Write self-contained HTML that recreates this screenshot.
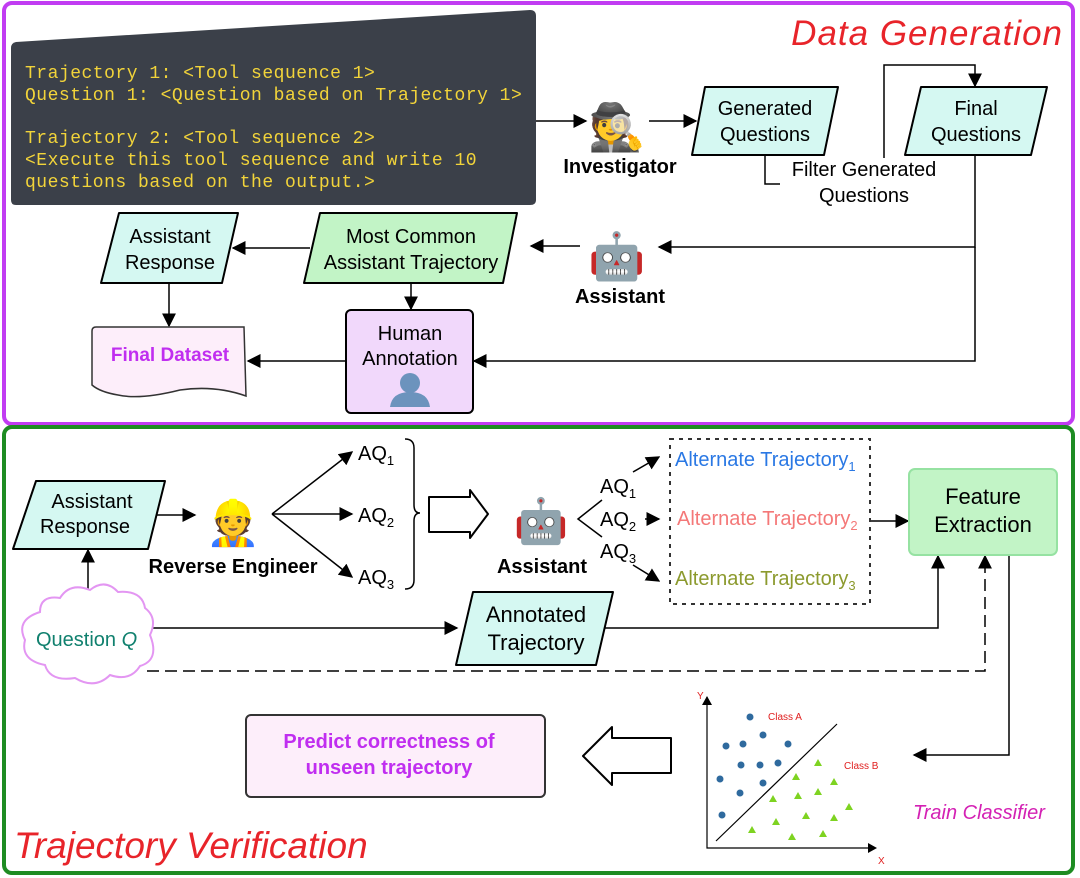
<!DOCTYPE html>
<html><head><meta charset="utf-8"><style>
html,body{margin:0;padding:0;background:#fff;width:1080px;height:878px;overflow:hidden}
svg{display:block;font-family:"Liberation Sans",sans-serif}
</style></head><body>
<svg width="1080" height="878" viewBox="0 0 1080 878" xmlns="http://www.w3.org/2000/svg">
<defs>
<marker id="ah" viewBox="0 0 10 10" refX="9" refY="5" markerWidth="14" markerHeight="14" markerUnits="userSpaceOnUse" orient="auto"><path d="M0,0 L10,5 L0,10 z" fill="#000"/></marker>
</defs>
<rect x="4" y="3" width="1069" height="421" rx="8" fill="none" stroke="#c13cf2" stroke-width="4"/>
<rect x="4" y="427" width="1069" height="446" rx="8" fill="none" stroke="#1e8c22" stroke-width="4"/>
<text x="1063" y="45" text-anchor="end" font-size="35" font-style="italic" fill="#e8242a" letter-spacing="1">Data Generation</text>
<text x="14" y="858" font-size="37" font-style="italic" fill="#e8242a">Trajectory Verification</text>

<path d="M16,42 L530,10 Q536,10 536,16 L536,200 Q536,205 530,205 L16,205 Q11,205 11,200 L11,48 Q11,43 16,42 z" fill="#3b4049"/>
<g font-family="'Liberation Mono',monospace" font-size="18" fill="#f2d43a" letter-spacing="0.5">
<text x="25" y="78">Trajectory 1: &lt;Tool sequence 1&gt;</text>
<text x="25" y="100">Question 1: &lt;Question based on Trajectory 1&gt;</text>
<text x="25" y="143">Trajectory 2: &lt;Tool sequence 2&gt;</text>
<text x="25" y="165">&lt;Execute this tool sequence and write 10</text>
<text x="25" y="187">questions based on the output.&gt;</text>
</g>

<g stroke="#000" stroke-width="1.5" fill="none">
<line x1="536" y1="121" x2="586" y2="121" marker-end="url(#ah)"/>
<line x1="649" y1="121" x2="696" y2="121" marker-end="url(#ah)"/>
<path d="M765,155 L765,184 L780,184"/>
<path d="M884,158 L884,65 L975,65 L975,86" marker-end="url(#ah)"/>
<path d="M975,155 L975,247 L659,247" marker-end="url(#ah)"/>
<path d="M975,247 L975,361 L474,361" marker-end="url(#ah)"/>
<line x1="580" y1="246" x2="531" y2="246" marker-end="url(#ah)"/>
<line x1="310" y1="248" x2="233" y2="248" marker-end="url(#ah)"/>
<line x1="169" y1="283" x2="169" y2="326" marker-end="url(#ah)"/>
<line x1="411" y1="283" x2="411" y2="309" marker-end="url(#ah)"/>
<line x1="346" y1="361" x2="248" y2="361" marker-end="url(#ah)"/>
</g>

<text x="617" y="143" text-anchor="middle" font-size="46">🕵️</text>
<text x="620" y="173" text-anchor="middle" font-size="20" font-weight="bold">Investigator</text>
<path d="M705,87 L838,87 L824,155 L692,155 z" fill="#d5f8f2" stroke="#000" stroke-width="2" stroke-linejoin="round"/>
<text x="765" y="115" text-anchor="middle" font-size="20">Generated</text>
<text x="765" y="141" text-anchor="middle" font-size="20">Questions</text>
<path d="M921,87 L1047,87 L1031,155 L905,155 z" fill="#d5f8f2" stroke="#000" stroke-width="2" stroke-linejoin="round"/>
<text x="976" y="115" text-anchor="middle" font-size="20">Final</text>
<text x="976" y="141" text-anchor="middle" font-size="20">Questions</text>
<rect x="782" y="158" width="160" height="48" fill="#fff"/>
<text x="864" y="176" text-anchor="middle" font-size="20">Filter Generated</text>
<text x="864" y="202" text-anchor="middle" font-size="20">Questions</text>

<text x="617" y="272" text-anchor="middle" font-size="46">🤖</text>
<text x="620" y="303" text-anchor="middle" font-size="20" font-weight="bold">Assistant</text>

<path d="M320,213 L517,213 L503,283 L304,283 z" fill="#c2f4c6" stroke="#000" stroke-width="2" stroke-linejoin="round"/>
<text x="411" y="243" text-anchor="middle" font-size="20">Most Common</text>
<text x="411" y="269" text-anchor="middle" font-size="20">Assistant Trajectory</text>
<path d="M119,213 L238,213 L222,283 L101,283 z" fill="#d5f8f2" stroke="#000" stroke-width="2" stroke-linejoin="round"/>
<text x="170" y="243" text-anchor="middle" font-size="20">Assistant</text>
<text x="170" y="269" text-anchor="middle" font-size="20">Response</text>

<path d="M96,327 L244,327 L246,396 Q215,385 180,390 Q140,400 118,395 Q100,392 92,385 L92,331 Q92,327 96,327 z" fill="#fdeefa" stroke="#333" stroke-width="1.5"/>
<text x="170" y="361" text-anchor="middle" font-size="19" font-weight="bold" fill="#c02ef0">Final Dataset</text>

<rect x="346" y="310" width="127" height="103" rx="5" fill="#f1d8fb" stroke="#000" stroke-width="2"/>
<text x="410" y="340" text-anchor="middle" font-size="20">Human</text>
<text x="410" y="365" text-anchor="middle" font-size="20">Annotation</text>
<circle cx="410" cy="383" r="10" fill="#6c93bd"/>
<path d="M390,407 Q392,392 410,392 Q428,392 430,407 z" fill="#6c93bd"/>

<path d="M36,481 L165,481 L148,549 L13,549 z" fill="#d5f8f2" stroke="#000" stroke-width="2" stroke-linejoin="round"/>
<text x="92" y="508" text-anchor="middle" font-size="20">Assistant</text>
<text x="85" y="533" text-anchor="middle" font-size="20">Response</text>
<g stroke="#000" stroke-width="1.5" fill="none">
<line x1="157" y1="515" x2="195" y2="515" marker-end="url(#ah)"/>
<line x1="272" y1="514" x2="352" y2="452" marker-end="url(#ah)"/>
<line x1="272" y1="514" x2="352" y2="514" marker-end="url(#ah)"/>
<line x1="272" y1="514" x2="352" y2="577" marker-end="url(#ah)"/>
<path d="M405,439 Q414,439 414,448 L414,505 Q414,513 420,513 Q414,513 414,521 L414,580 Q414,589 405,589"/>
<path d="M429,497 L470,497 L470,490 L488,514 L470,538 L470,532 L429,532 z" stroke-width="2" stroke-linejoin="round"/>
<path d="M602,500 L578,519 L602,537"/>
<line x1="633" y1="472" x2="659" y2="457" marker-end="url(#ah)"/>
<line x1="645" y1="519" x2="659" y2="519" marker-end="url(#ah)"/>
<line x1="633" y1="565" x2="659" y2="581" marker-end="url(#ah)"/>
<line x1="870" y1="521" x2="908" y2="521" marker-end="url(#ah)"/>
<line x1="88" y1="600" x2="88" y2="550" marker-end="url(#ah)"/>
<line x1="150" y1="628" x2="457" y2="628" marker-end="url(#ah)"/>
<path d="M605,628 L938,628 L938,556" marker-end="url(#ah)"/>
<path d="M147,671 L985,671 L985,556" stroke-dasharray="12,6" marker-end="url(#ah)"/>
<path d="M1009,555 L1009,755 L914,755" marker-end="url(#ah)"/>
<path d="M671,738 L612,738 L612,727 L583,756 L612,785 L612,773 L671,773 z" stroke-width="2" stroke-linejoin="round"/>
</g>
<text x="233" y="538" text-anchor="middle" font-size="44">👷</text>
<text x="233" y="573" text-anchor="middle" font-size="20" font-weight="bold">Reverse Engineer</text>
<g font-size="20">
<text x="358" y="460">AQ<tspan font-size="13" dy="5">1</tspan></text>
<text x="358" y="522">AQ<tspan font-size="13" dy="5">2</tspan></text>
<text x="358" y="584">AQ<tspan font-size="13" dy="5">3</tspan></text>
<text x="600" y="493">AQ<tspan font-size="13" dy="5">1</tspan></text>
<text x="600" y="526">AQ<tspan font-size="13" dy="5">2</tspan></text>
<text x="600" y="558">AQ<tspan font-size="13" dy="5">3</tspan></text>
</g>
<text x="541" y="536" text-anchor="middle" font-size="44">🤖</text>
<text x="542" y="573" text-anchor="middle" font-size="20" font-weight="bold">Assistant</text>

<rect x="670" y="439" width="200" height="165" fill="none" stroke="#333" stroke-width="2" stroke-dasharray="4,5"/>
<g font-size="20">
<text x="675" y="466" fill="#2a78e4">Alternate Trajectory<tspan font-size="13" dy="5">1</tspan></text>
<text x="677" y="525" fill="#f47878">Alternate Trajectory<tspan font-size="13" dy="5">2</tspan></text>
<text x="675" y="585" fill="#8c9a2e">Alternate Trajectory<tspan font-size="13" dy="5">3</tspan></text>
</g>
<rect x="909" y="469" width="148" height="86" rx="6" fill="#c2f4c6" stroke="#96e2a2" stroke-width="2"/>
<text x="983" y="504" text-anchor="middle" font-size="22">Feature</text>
<text x="983" y="532" text-anchor="middle" font-size="22">Extraction</text>

<path d="M40,612 Q40,595 60,598 Q70,582 90,590 Q105,578 118,592 Q142,590 145,608 Q158,618 150,635 Q160,660 140,666 Q130,682 110,675 Q95,690 75,678 Q50,682 45,665 Q20,660 25,640 Q15,620 40,612 z" fill="#fff" stroke="#e396f2" stroke-width="2"/>
<text x="36" y="646" font-size="20" fill="#10806e">Question <tspan font-style="italic">Q</tspan></text>

<path d="M473,592 L613,592 L596,665 L456,665 z" fill="#d5f8f2" stroke="#000" stroke-width="2" stroke-linejoin="round"/>
<text x="536" y="622" text-anchor="middle" font-size="22">Annotated</text>
<text x="536" y="650" text-anchor="middle" font-size="22">Trajectory</text>

<rect x="246" y="715" width="299" height="82" rx="5" fill="#fdeefa" stroke="#333" stroke-width="2"/>
<text x="389" y="748" text-anchor="middle" font-size="20" font-weight="bold" fill="#c02ef0">Predict correctness of</text>
<text x="389" y="774" text-anchor="middle" font-size="20" font-weight="bold" fill="#c02ef0">unseen trajectory</text>

<g stroke="#000" stroke-width="1.2" fill="none">
<path d="M707,697 L707,848 L875,848"/>
<line x1="716" y1="841" x2="837" y2="724"/>
</g>
<path d="M702,705 L707,696 L712,705 z M868,843 L877,848 L868,853 z"/>
<text x="697" y="699" font-size="10" fill="#e02020">Y</text>
<text x="878" y="864" font-size="10" fill="#e02020">X</text>
<text x="768" y="720" font-size="10" fill="#e02020">Class A</text>
<text x="844" y="769" font-size="10" fill="#e02020">Class B</text>
<g fill="#2f6a9e">
<circle cx="750" cy="717" r="3.5"/><circle cx="763" cy="735" r="3.5"/><circle cx="726" cy="746" r="3.5"/><circle cx="743" cy="744" r="3.5"/><circle cx="788" cy="744" r="3.5"/><circle cx="741" cy="765" r="3.5"/><circle cx="760" cy="765" r="3.5"/><circle cx="778" cy="763" r="3.5"/><circle cx="720" cy="779" r="3.5"/><circle cx="763" cy="783" r="3.5"/><circle cx="740" cy="793" r="3.5"/><circle cx="722" cy="815" r="3.5"/>
</g>
<g fill="#7ed321">
<path d="M818,759 l4,7 h-8z M796,773 l4,7 h-8z M834,778 l4,7 h-8z M818,788 l4,7 h-8z M798,792 l4,7 h-8z M773,795 l4,7 h-8z M849,803 l4,7 h-8z M806,812 l4,7 h-8z M834,814 l4,7 h-8z M776,818 l4,7 h-8z M752,826 l4,7 h-8z M792,833 l4,7 h-8z M823,830 l4,7 h-8z"/>
</g>
<text x="913" y="819" font-size="20" font-style="italic" fill="#d421b4">Train Classifier</text>
</svg>
</body></html>
